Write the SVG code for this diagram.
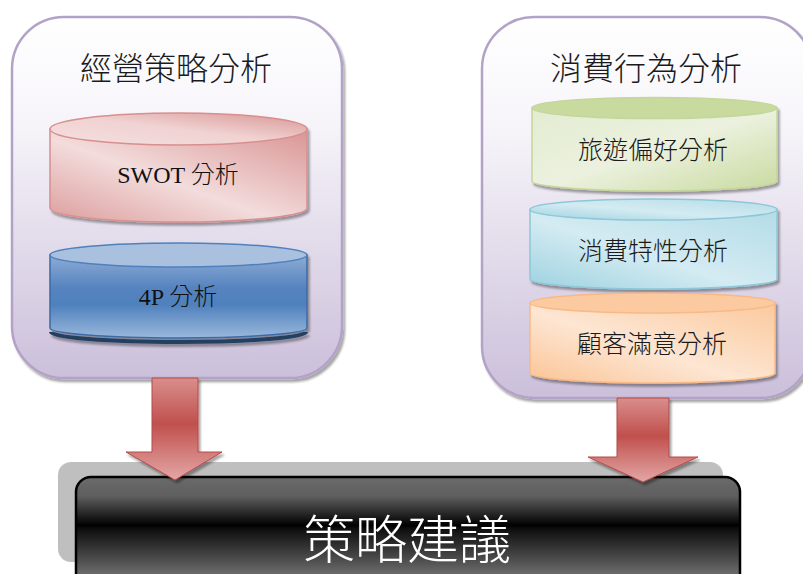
<svg xmlns="http://www.w3.org/2000/svg" width="803" height="574" viewBox="0 0 803 574">
<defs>
  <style>
    .cjk{font-family:"Noto Sans CJK TC","Noto Sans CJK SC",sans-serif;font-weight:300;}
    .title{font-size:32px;fill:#1a1a1a;text-anchor:middle;}
    .lbl{font-size:25px;fill:#1a1a1a;text-anchor:middle;}
    .lat{font-family:"Liberation Serif","Noto Sans CJK TC",serif;font-size:24px;fill:#111;text-anchor:middle;}
    .cont{stroke:#b3a2c7;stroke-width:2.5;fill:url(#gCont);filter:url(#sh);}
    .arrow{stroke:#b54a47;stroke-width:1;fill:url(#gArrow);filter:url(#sh);}
  </style>
  <filter id="sh" x="-10%" y="-10%" width="130%" height="130%">
    <feDropShadow dx="2" dy="3" stdDeviation="1.2" flood-color="#000" flood-opacity="0.35"/>
  </filter>
  <linearGradient id="gCont" x1="0" y1="0" x2="0" y2="1">
    <stop offset="0" stop-color="#ffffff"/>
    <stop offset="0.3" stop-color="#f6f4f9"/>
    <stop offset="1" stop-color="#cbbfda"/>
  </linearGradient>
  <linearGradient id="gRed" x1="0" y1="1" x2="1" y2="0">
    <stop offset="0" stop-color="#dc9e9d"/>
    <stop offset="0.45" stop-color="#f3dcdc"/>
    <stop offset="1" stop-color="#d99594"/>
  </linearGradient>
  <linearGradient id="gRedTop" x1="0" y1="1" x2="1" y2="0">
    <stop offset="0" stop-color="#f5e0e0"/>
    <stop offset="0.5" stop-color="#f0d2d2"/>
    <stop offset="1" stop-color="#d99594"/>
  </linearGradient>
  <linearGradient id="gBlue" x1="0" y1="0" x2="0" y2="1">
    <stop offset="0" stop-color="#8eacd4"/>
    <stop offset="0.4" stop-color="#5583bf"/>
    <stop offset="0.6" stop-color="#4f81bd"/>
    <stop offset="1" stop-color="#9ab8dc"/>
  </linearGradient>
  <linearGradient id="gGreen" x1="0" y1="0" x2="1" y2="1">
    <stop offset="0" stop-color="#e3ecd2"/>
    <stop offset="0.5" stop-color="#ebf1de"/>
    <stop offset="1" stop-color="#c9da9f"/>
  </linearGradient>
  <linearGradient id="gCyan" x1="0" y1="1" x2="1" y2="0">
    <stop offset="0" stop-color="#9dd2e0"/>
    <stop offset="0.45" stop-color="#d4ebf2"/>
    <stop offset="1" stop-color="#b3dce7"/>
  </linearGradient>
  <linearGradient id="gOrange" x1="0" y1="1" x2="1" y2="0">
    <stop offset="0" stop-color="#fbc495"/>
    <stop offset="0.45" stop-color="#fde6d3"/>
    <stop offset="1" stop-color="#fbc99d"/>
  </linearGradient>
  <linearGradient id="gArrow" x1="0" y1="0" x2="0" y2="1">
    <stop offset="0" stop-color="#d98e8c"/>
    <stop offset="0.45" stop-color="#c0504d"/>
    <stop offset="1" stop-color="#e3a7a6"/>
  </linearGradient>
  <linearGradient id="gBlack" gradientUnits="userSpaceOnUse" x1="0" y1="477" x2="0" y2="574">
    <stop offset="0" stop-color="#6b6b6b"/>
    <stop offset="0.2" stop-color="#5e5e5e"/>
    <stop offset="0.5" stop-color="#000000"/>
    <stop offset="0.53" stop-color="#0d0d0d"/>
    <stop offset="1" stop-color="#6b6b6b"/>
  </linearGradient>
</defs>

<g id="bottom-box">
  <rect x="58" y="462" width="665" height="100" rx="13" fill="#bfbfbf"/>
  <rect x="76" y="477" width="664" height="115" rx="15" fill="url(#gBlack)" stroke="#000" stroke-width="2.5"/>
  <text class="cjk" x="407" y="559" font-size="52" fill="#ffffff" text-anchor="middle">策略建議</text>
</g>

<g id="left-group">
  <rect class="cont" x="12" y="17" width="330" height="361" rx="52"/>
  <text class="cjk title" x="176" y="80">經營策略分析</text>
</g>

<g id="swot">
  <g filter="url(#sh)">
    <path d="M50 129 L50 208 A128.5 14 0 0 0 307 208 L307 129 Z" fill="url(#gRed)" stroke="#d88f8e" stroke-width="1.5"/>
    <ellipse cx="178.5" cy="129" rx="128.5" ry="16" fill="url(#gRedTop)" stroke="#d88f8e" stroke-width="1.5"/>
  </g>
  <text class="lat" x="178" y="183">SWOT <tspan class="cjk">分析</tspan></text>
</g>

<g id="fourp">
  <g filter="url(#sh)">
    <path d="M51 332 A127.5 10 0 0 0 306 332" fill="none" stroke="#243f60" stroke-width="4"/>
    <path d="M50 255 L50 328 A128.5 10 0 0 0 307 328 L307 255 Z" fill="url(#gBlue)" stroke="#3d6aa5" stroke-width="1.5"/>
    <ellipse cx="178.5" cy="255" rx="128.5" ry="12" fill="#a9c0df" stroke="#4f81bd" stroke-width="1.5"/>
  </g>
  <text class="lat" x="178" y="305">4P <tspan class="cjk">分析</tspan></text>
</g>

<g id="right-group">
  <rect class="cont" x="482" y="17" width="330" height="381" rx="52"/>
  <text class="cjk title" x="646" y="80">消費行為分析</text>
</g>

<g id="travel">
  <g filter="url(#sh)">
    <path d="M532 108 L532 181 A122.5 10 0 0 0 777 181 L777 108 Z" fill="url(#gGreen)" stroke="#c3d69b" stroke-width="1.5"/>
    <ellipse cx="654.5" cy="108" rx="122.5" ry="10.5" fill="#c9da9f" stroke="#c3d69b" stroke-width="1.5"/>
  </g>
  <text class="cjk lbl" x="653" y="159">旅遊偏好分析</text>
</g>

<g id="consume">
  <g filter="url(#sh)">
    <path d="M530 209.5 L530 279 A123.5 10 0 0 0 777 279 L777 209.5 Z" fill="url(#gCyan)" stroke="#8cc8d9" stroke-width="1.5"/>
    <ellipse cx="653.5" cy="209.5" rx="123.5" ry="10.5" fill="url(#gCyan)" stroke="#8cc8d9" stroke-width="1.5"/>
  </g>
  <text class="cjk lbl" x="653" y="260">消費特性分析</text>
</g>

<g id="satisfy">
  <g filter="url(#sh)">
    <path d="M530 303 L530 373 A122.5 10 0 0 0 775 373 L775 303 Z" fill="url(#gOrange)" stroke="#f9b985" stroke-width="1.5"/>
    <ellipse cx="652.5" cy="303" rx="122.5" ry="10" fill="#fccaa0" stroke="#f9b985" stroke-width="1.5"/>
  </g>
  <text class="cjk lbl" x="652" y="353">顧客滿意分析</text>
</g>

<g id="connectors">
  <polygon class="arrow" points="152,378 198,378 198,452 222,452 175,480 126,452 152,452"/>
  <polygon class="arrow" points="617,398 669,398 669,457 698,457 643,482 588,457 617,457"/>
</g>
</svg>
